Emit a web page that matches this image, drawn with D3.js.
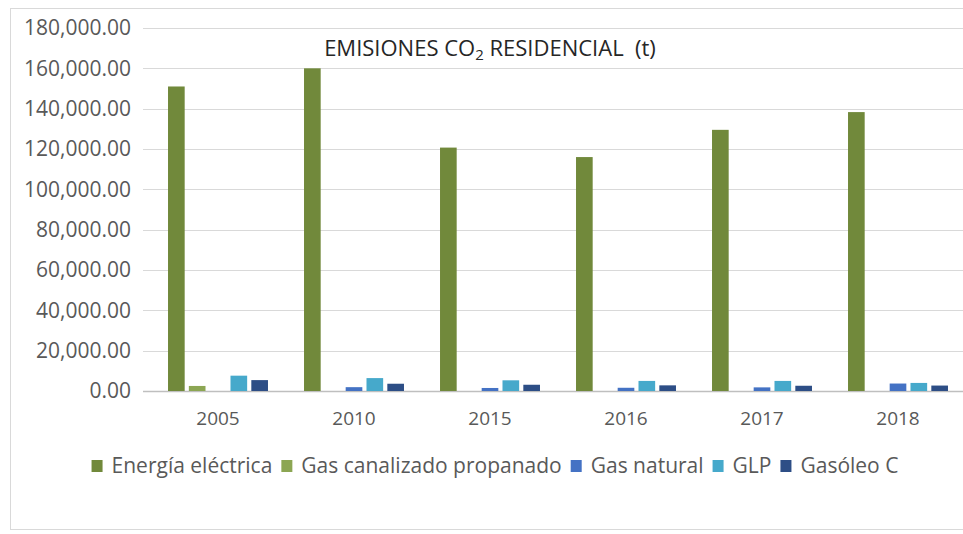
<!DOCTYPE html>
<html>
<head>
<meta charset="utf-8">
<script src="https://cdn.jsdelivr.net/npm/d3@7"></script>
<style>
  body { margin: 0; background: #fff; }
  text { font-family: "Open Sans", "Noto Sans", sans-serif; }
</style>
</head>
<body>
<div id="chart"></div>
<script>
// Data
const years = ["2005", "2010", "2015", "2016", "2017", "2018"];
const series = ["Energía eléctrica", "Gas canalizado propanado", "Gas natural", "GLP", "Gasóleo C"];
const colors = ["#71893b", "#8ca653", "#4472c4", "#46a9cb", "#2d4e86"];

const energiaElectrica = [151000, 160000, 120700, 116000, 129500, 138300];
const gasCanalizado    = [2500, 0, 0, 0, 0, 0];
const gasNatural       = [0, 1900, 1500, 1600, 1800, 3700];
const glp              = [7600, 6400, 5300, 5000, 5000, 4000];
const gasoleoC         = [5400, 3600, 3100, 2800, 2600, 2700];
const values = [energiaElectrica, gasCanalizado, gasNatural, glp, gasoleoC];

const yTicks = [0, 20000, 40000, 60000, 80000, 100000, 120000, 140000, 160000, 180000];

const width = 963, height = 534;

const svg = d3.select("#chart").append("svg")
    .attr("width", width)
    .attr("height", height);

// chart border
svg.append("rect")
    .attr("x", 10.5).attr("y", 8.5)
    .attr("width", 960).attr("height", 521)
    .attr("fill", "none")
    .attr("stroke", "#d9d9d9");

// scales
const x0 = d3.scaleBand()
    .domain(years)
    .range([150, 966])
    .paddingInner(0.265)
    .paddingOuter(0.1325);

const x1 = d3.scaleBand()
    .domain(series)
    .range([0, x0.bandwidth()])
    .paddingInner(0.2)
    .paddingOuter(0);

const y = d3.scaleLinear()
    .domain([0, 180000])
    .range([391, 28]);

// grid lines
svg.append("g")
    .selectAll("line")
    .data(yTicks)
    .enter()
    .append("line")
    .attr("x1", 143)
    .attr("x2", 963)
    .attr("y1", d => Math.round(y(d)) + 0.5)
    .attr("y2", d => Math.round(y(d)) + 0.5)
    .attr("stroke", d => d === 0 ? "#bfbfbf" : "#d9d9d9")
    .attr("stroke-width", d => d === 0 ? 1.5 : 1.2);

// y axis labels
const yAxis = svg.append("g")
    .attr("transform", "translate(143,0)")
    .call(d3.axisLeft(y).tickValues(yTicks).tickFormat(d3.format(",.2f")).tickSize(0).tickPadding(12));
yAxis.select(".domain").remove();
yAxis.selectAll("text")
    .style("font-family", "'Open Sans', sans-serif")
    .style("font-size", "21px")
    .attr("fill", "#595959");

// x axis labels
const xAxis = svg.append("g")
    .attr("transform", "translate(0,391)")
    .call(d3.axisBottom(x0).tickSize(0).tickPadding(21));
xAxis.select(".domain").remove();
xAxis.selectAll("text")
    .style("font-family", "'Open Sans', sans-serif")
    .style("font-size", "19px")
    .attr("fill", "#595959");

// bars
const groups = svg.append("g")
    .selectAll("g")
    .data(years)
    .enter()
    .append("g")
    .attr("transform", d => `translate(${x0(d)},0)`);

groups.selectAll("rect")
    .data((yr, i) => series.map((s, j) => ({ s, j, v: values[j][i] })))
    .enter()
    .append("rect")
    .attr("x", d => x1(d.s))
    .attr("width", x1.bandwidth())
    .attr("y", d => y(d.v))
    .attr("height", d => y(0) - y(d.v))
    .attr("fill", d => colors[d.j]);

// title
const title = svg.append("text")
    .attr("x", 490)
    .attr("y", 56)
    .attr("text-anchor", "middle")
    .attr("fill", "#262626")
    .style("font-size", "22px");
title.append("tspan").text("EMISIONES CO");
title.append("tspan").text("2").style("font-size", "15px").attr("dy", 4);
title.append("tspan").text(" RESIDENCIAL  (t)").attr("dy", -4).attr("xml:space", "preserve");

// legend
const legend = svg.append("g");
let lx = 0;
series.forEach((s, i) => {
    const item = legend.append("g").attr("transform", `translate(${lx},0)`);
    item.append("rect")
        .attr("x", 0).attr("y", -13)
        .attr("width", 11).attr("height", 12)
        .attr("fill", colors[i]);
    const t = item.append("text")
        .attr("x", 20).attr("y", 0)
        .attr("fill", "#595959")
        .style("font-size", "21px")
        .text(s);
    lx += 20 + t.node().getComputedTextLength() + 9;
});
legend.attr("transform", `translate(${495 - (lx - 9) / 2},473)`);
</script>
</body>
</html>
